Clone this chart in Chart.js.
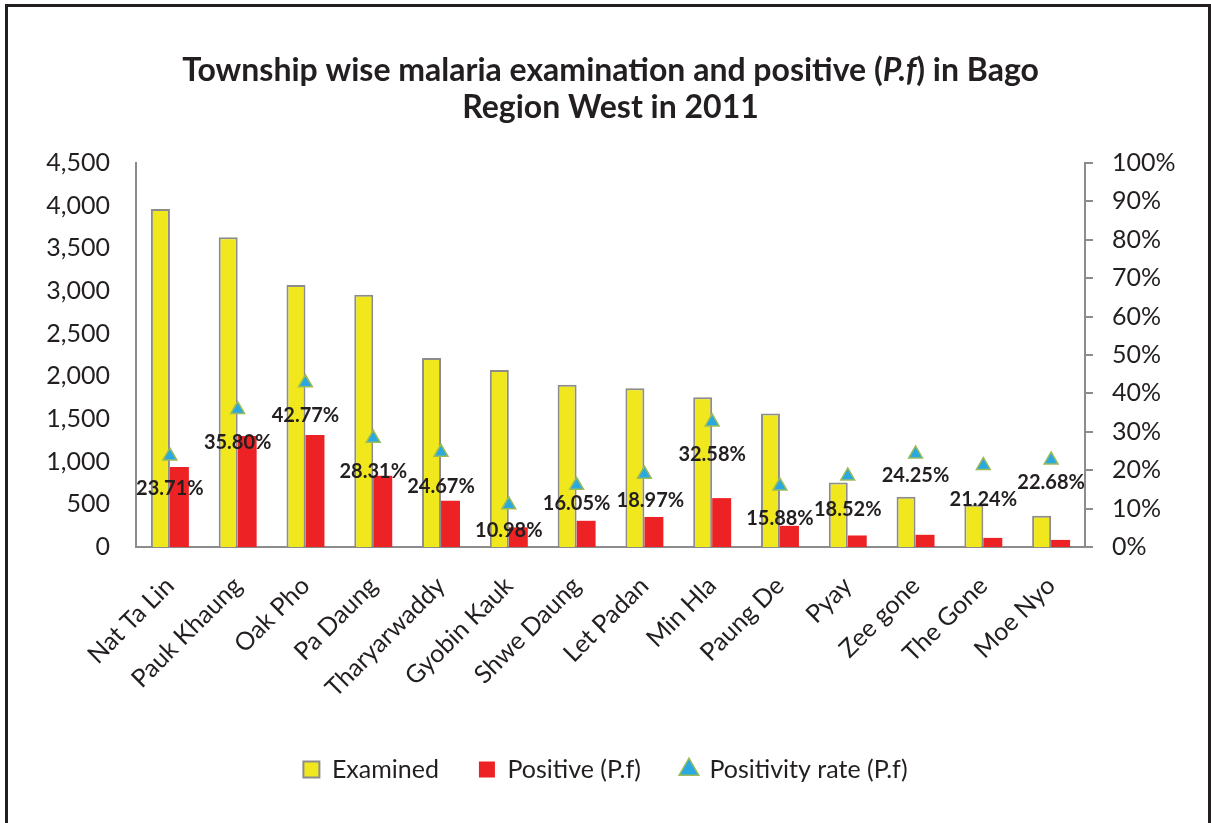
<!DOCTYPE html>
<html><head><meta charset="utf-8">
<script src="https://cdn.jsdelivr.net/npm/chart.js@4/dist/chart.umd.min.js"></script>
<style>
html,body{margin:0;padding:0;background:#fff;}
#wrap{position:relative;width:1211px;height:823px;overflow:hidden;background:#fff;}
#frame{position:absolute;left:5px;top:4px;width:1206px;height:900px;border:3px solid #231f20;box-sizing:border-box;pointer-events:none;}
canvas{position:absolute;left:0;top:0;}
</style></head>
<body><div id="wrap"><canvas id="c" width="1211" height="823"></canvas><div id="frame"></div></div>
<script>
// ---- data ----
const townships = ["Nat Ta Lin","Pauk Khaung","Oak Pho","Pa Daung","Tharyarwaddy","Gyobin Kauk","Shwe Daung","Let Padan","Min Hla","Paung De","Pyay","Zee gone","The Gone","Moe Nyo"];
const examined = [3960, 3630, 3070, 2955, 2215, 2075, 1900, 1860, 1755, 1565, 755, 590, 495, 365];
const positive = [938, 1300, 1312, 834, 542, 230, 307, 352, 573, 248, 135, 143, 107, 83];
const positivityRate = [23.71, 35.80, 42.77, 28.31, 24.67, 10.98, 16.05, 18.97, 32.58, 15.88, 18.52, 24.25, 21.24, 22.68];
const rateLabels = ["23.71%","35.80%","42.77%","28.31%","24.67%","10.98%","16.05%","18.97%","32.58%","15.88%","18.52%","24.25%","21.24%","22.68%"];
const seriesNames = ["Examined","Positive (P.f)","Positivity rate (P.f)"];
const leftAxis = {min: 0, max: 4500, step: 500};
const rightAxis = {min: 0, max: 100, step: 10};

// ---- label placement (style, not data) ----
const labelDy = [33,33,33,33,34,26,18,26,33,33,34,22,34,23];
const labelDx = [0,0,0,0,0,0,0,6,0,0,0,0,0,0];

const FONT = "Lato, 'Open Sans', sans-serif";
const TXT = "#231f20";
const GREY = "#8c8c8c";

const titlePlugin = {
  id: 'customTitle',
  afterDraw(chart) {
    const ctx = chart.ctx;
    const cx = (chart.chartArea.left + chart.chartArea.right) / 2;
    const lines = [
      {y: 81, segs: [["Township wise malaria examination and positive (", false], ["P.f", true], [") in Bago", false]]},
      {y: 118, segs: [["Region West in 2011", false]]}
    ];
    ctx.save();
    ctx.fillStyle = TXT;
    ctx.textBaseline = 'alphabetic';
    ctx.textAlign = 'left';
    lines.forEach(l => {
      let total = 0;
      const widths = l.segs.map(s => { ctx.font = (s[1] ? 'italic ' : '') + 'bold 32px ' + FONT; const w = ctx.measureText(s[0]).width; total += w; return w; });
      let x = cx - total / 2;
      l.segs.forEach((s, i) => { ctx.font = (s[1] ? 'italic ' : '') + 'bold 32px ' + FONT; ctx.fillText(s[0], x, l.y); x += widths[i]; });
    });
    ctx.restore();
  }
};

const rateLabelPlugin = {
  id: 'rateLabels',
  afterDatasetsDraw(chart) {
    const meta = chart.getDatasetMeta(2);
    const ctx = chart.ctx;
    ctx.save();
    ctx.font = 'bold 20px ' + FONT;
    ctx.fillStyle = TXT;
    ctx.textAlign = 'center';
    ctx.textBaseline = 'middle';
    meta.data.forEach((pt, i) => {
      ctx.fillText(rateLabels[i], pt.x + labelDx[i], pt.y + labelDy[i]);
    });
    ctx.restore();
  }
};

new Chart(document.getElementById('c'), {
  data: {
    labels: townships,
    datasets: [
      {type: 'bar', label: seriesNames[0], data: examined, yAxisID: 'y', backgroundColor: '#f0e81c', borderColor: GREY, borderWidth: 2, borderSkipped: 'bottom', order: 1, categoryPercentage: 0.56, barPercentage: 1.0},
      {type: 'bar', label: seriesNames[1], data: positive, yAxisID: 'y', backgroundColor: '#ed2224', borderColor: '#ed2224', borderWidth: 0, order: 1, categoryPercentage: 0.56, barPercentage: 1.0},
      {type: 'line', label: seriesNames[2], data: positivityRate, yAxisID: 'y1', showLine: false, backgroundColor: '#29a9e0', borderColor: '#9bbb59', pointStyle: 'triangle', pointRadius: 8, pointHoverRadius: 8, pointBorderWidth: 1.5, borderWidth: 1.5, order: 0}
    ]
  },
  options: {
    responsive: false,
    animation: false,
    layout: {padding: {top: 163, left: 0, right: 0, bottom: 31}},
    plugins: {
      title: {display: false},
      tooltip: {enabled: false},
      legend: {
        position: 'bottom',
        labels: {
          usePointStyle: true,
          boxWidth: 16, boxHeight: 16,
          padding: 40,
          color: TXT,
          font: {family: FONT, size: 25},
          sort: (a, b) => a.datasetIndex - b.datasetIndex,
          generateLabels(chart) {
            const items = Chart.defaults.plugins.legend.labels.generateLabels(chart);
            const styles = ['rect', 'rect', 'triangle'];
            items.forEach(it => {
              const i = it.datasetIndex;
              it.pointStyle = styles[i];
              if (i === 0) { it.strokeStyle = GREY; it.lineWidth = 2; }
              if (i === 1) { it.lineWidth = 0; }
              if (i === 2) { it.lineWidth = 1.5; }
            });
            return items;
          }
        }
      }
    },
    scales: {
      x: {
        type: 'category',
        grid: {display: false},
        border: {display: true, color: GREY, width: 2},
        ticks: {color: TXT, font: {family: FONT, size: 25}, maxRotation: 45, minRotation: 45, autoSkip: false, padding: 16},
        afterFit(s) { s.height = 170; }
      },
      y: {
        position: 'left',
        min: leftAxis.min, max: leftAxis.max,
        grid: {display: false, drawTicks: false},
        border: {display: true, color: GREY, width: 2},
        ticks: {stepSize: leftAxis.step, color: TXT, font: {family: FONT, size: 25}, padding: 26,
          callback: v => Number(v).toLocaleString('en-US')},
        afterFit(s) { s.width = 136; }
      },
      y1: {
        position: 'right',
        min: rightAxis.min, max: rightAxis.max,
        grid: {drawOnChartArea: false, drawTicks: true, tickLength: 8, color: GREY, lineWidth: 2},
        border: {display: true, color: GREY, width: 2},
        ticks: {stepSize: rightAxis.step, color: TXT, font: {family: FONT, size: 25}, padding: 19,
          callback: v => v + '%'},
        afterFit(s) { s.width = 126; }
      }
    }
  },
  plugins: [titlePlugin, rateLabelPlugin]
});
</script>
</body></html>
